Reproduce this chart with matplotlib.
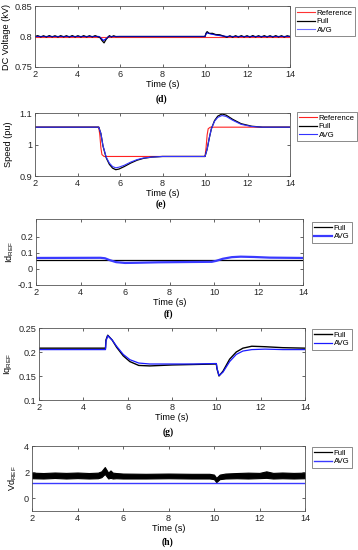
import matplotlib
matplotlib.use('Agg')
import matplotlib.pyplot as plt

plt.rcParams['font.family'] = ['Liberation Sans', 'DejaVu Sans']
plt.rcParams['mathtext.fontset'] = 'custom'
plt.rcParams['mathtext.rm'] = 'Liberation Sans'

# ---- (d) DC voltage ----
t_d_ref = [2, 14]
v_d_ref = [0.8, 0.8]
t_d_full = [2.0, 2.13, 2.27, 2.4, 2.54, 2.67, 2.81, 2.94, 3.08, 3.21, 3.35, 3.48, 3.62, 3.75,
            3.89, 4.02, 4.16, 4.29, 4.43, 4.56, 4.7, 4.83, 4.97, 5.05, 5.15, 5.25, 5.35, 5.5,
            5.6, 5.7, 5.8, 6.0, 10.0, 10.05, 10.1, 10.2, 10.35, 10.5, 10.7, 10.9, 11.03, 11.17,
            11.3, 11.44, 11.57, 11.71, 11.84, 11.98, 12.11, 12.25, 12.38, 12.52, 12.65, 12.79,
            12.92, 13.06, 13.19, 13.33, 13.46, 13.6, 13.73, 13.87, 14.0]
v_d_full = [0.8, 0.8014, 0.7992, 0.8012, 0.7991, 0.8015, 0.7993, 0.8012, 0.7991, 0.8014, 0.7993,
            0.8013, 0.7991, 0.8015, 0.7992, 0.8013, 0.7991, 0.8014, 0.7992, 0.8013, 0.7992,
            0.8014, 0.7994, 0.7985, 0.7935, 0.7895, 0.7955, 0.8014, 0.7992, 0.8012, 0.7998,
            0.8, 0.8, 0.8055, 0.808, 0.805, 0.8052, 0.8032, 0.8028, 0.8003, 0.7988, 0.8012,
            0.7989, 0.8013, 0.7991, 0.8014, 0.7992, 0.8013, 0.7991, 0.8015, 0.7992, 0.8013,
            0.7991, 0.8014, 0.7992, 0.8013, 0.7991, 0.8014, 0.7992, 0.8013, 0.7991, 0.8012, 0.8]
t_d_avg = [2, 5.0, 5.1, 5.2, 5.3, 5.45, 5.6, 10.0, 10.05, 10.1, 10.3, 10.6, 11.0, 14]
v_d_avg = [0.8, 0.8, 0.798, 0.7935, 0.795, 0.7995, 0.8, 0.8, 0.8045, 0.806, 0.804, 0.802, 0.8, 0.8]

# ---- (e) speed ----
t_e_ref = [2, 5.0, 5.05, 5.1, 5.15, 5.25, 10.0, 10.05, 10.1, 10.15, 10.25, 14]
v_e_ref = [1.055, 1.055, 1.03, 0.99, 0.968, 0.962, 0.962, 0.99, 1.03, 1.05, 1.055, 1.055]
t_e_full = [2, 5.0, 5.1, 5.2, 5.35, 5.5, 5.65, 5.8, 5.95, 6.2, 6.5, 6.8, 7.1, 7.5, 8.0, 10.0,
            10.1, 10.2, 10.3, 10.45, 10.6, 10.8, 11.0, 11.3, 11.7, 12.2, 12.7, 14]
v_e_full = [1.055, 1.055, 1.035, 0.995, 0.958, 0.937, 0.925, 0.92, 0.922, 0.93, 0.941, 0.95,
            0.956, 0.96, 0.962, 0.962, 0.985, 1.02, 1.05, 1.076, 1.09, 1.097, 1.093, 1.08, 1.066,
            1.058, 1.055, 1.055]
v_e_avg = [1.055, 1.055, 1.035, 0.996, 0.96, 0.941, 0.93, 0.926, 0.928, 0.934, 0.944, 0.952,
           0.957, 0.96, 0.962, 0.962, 0.985, 1.02, 1.05, 1.074, 1.086, 1.092, 1.089, 1.077, 1.064,
           1.057, 1.055, 1.055]

# ---- (f) Id_REF ----
t_f_full = [2, 14]
v_f_full = [0.055, 0.055]
t_f_avg = [2, 4.9, 5.1, 5.3, 5.6, 6.0, 6.5, 7.5, 9.0, 9.9, 10.1, 10.4, 10.8, 11.2, 11.8, 12.5, 14]
v_f_avg = [0.068, 0.069, 0.066, 0.055, 0.042, 0.037, 0.038, 0.041, 0.043, 0.044, 0.05, 0.063,
           0.073, 0.076, 0.074, 0.07, 0.068]

# ---- (g) Iq_REF ----
t_g = [2, 5.0, 5.02, 5.1, 5.3, 5.5, 5.8, 6.1, 6.5, 7.0, 8.0, 9.0, 10.0, 10.03, 10.12, 10.3,
       10.6, 10.9, 11.2, 11.6, 12.2, 13.0, 14]
v_g_full = [0.208, 0.208, 0.225, 0.235, 0.225, 0.21, 0.192, 0.18, 0.172, 0.171, 0.173, 0.174,
            0.175, 0.165, 0.15, 0.16, 0.185, 0.2, 0.208, 0.212, 0.211, 0.209, 0.208]
v_g_avg = [0.205, 0.205, 0.222, 0.234, 0.225, 0.212, 0.195, 0.184, 0.177, 0.175, 0.175, 0.175,
           0.176, 0.166, 0.151, 0.158, 0.18, 0.195, 0.202, 0.205, 0.206, 0.205, 0.205]

# ---- (h) Vd_REF (Full drawn as a noise band) ----
t_h = [2, 2.5, 3.0, 3.5, 4.0, 4.5, 4.9, 5.05, 5.2, 5.35, 5.45, 5.55, 5.7, 6.0, 7.0, 8.0, 9.0,
       9.8, 10.0, 10.1, 10.25, 10.5, 11.0, 11.5, 12.0, 12.3, 12.6, 13.0, 13.5, 14]
h_full_lo = [1.52, 1.5, 1.54, 1.5, 1.53, 1.5, 1.52, 1.6, 1.85, 1.5, 1.55, 1.5, 1.52, 1.5,
             1.5, 1.52, 1.5, 1.5, 1.45, 1.22, 1.45, 1.5, 1.52, 1.5, 1.53, 1.55, 1.5, 1.52, 1.5, 1.52]
h_full_hi = [1.95, 1.92, 1.96, 1.93, 1.96, 1.92, 1.95, 2.05, 2.38, 1.95, 2.12, 1.95, 1.92, 1.88,
             1.86, 1.88, 1.86, 1.86, 1.8, 1.55, 1.8, 1.88, 1.92, 1.95, 1.93, 2.05, 1.93, 1.96, 1.93, 1.95]
t_h_avg = [2, 14]
v_h_avg = [1.15, 1.15]

W, H = 358, 550
FS = 6.6
LFS = 5.6


def add_axes(fig, x0, y0, x1, y1):
    return fig.add_axes([x0 / W, 1 - y1 / H, (x1 - x0) / W, (y1 - y0) / H])


def style(ax, ylim, yticks, yticklabels, ylabel, label_px, x0, x1):
    ax.set_xlim(2, 14)
    ax.set_xticks([2, 4, 6, 8, 10, 12, 14])
    ax.set_ylim(*ylim)
    ax.set_yticks(yticks)
    ax.set_yticklabels(yticklabels)
    ax.tick_params(direction='in', length=2.5, width=0.5, labelsize=FS, pad=2,
                   top=True, right=True, colors='#262626')
    for s in ax.spines.values():
        s.set_linewidth(0.6)
        s.set_color('#555555')
    ax.set_xlabel('Time (s)', fontsize=FS, labelpad=1)
    ax.set_ylabel(ylabel, fontsize=FS)
    # label_px is the right edge of the rotated label, in figure pixels
    ax.yaxis.set_label_coords((label_px - x0) / (x1 - x0), 0.5)


def legend(ax, x0, y0):
    leg = ax.legend(loc='upper left', bbox_to_anchor=(x0 / W, 1 - y0 / H),
                    bbox_transform=ax.figure.transFigure, fontsize=LFS, frameon=True,
                    fancybox=False, handlelength=2.3, handletextpad=0.2, borderpad=0.3,
                    labelspacing=0.15, borderaxespad=0)
    leg.get_frame().set_edgecolor('#555555')
    leg.get_frame().set_linewidth(0.6)


def caption(fig, text, x, y):
    fig.text(x / W, 1 - y / H, text, fontsize=7, fontweight='bold',
             family='Liberation Serif', ha='center', va='center')


fig = plt.figure(figsize=(W / 100, H / 100), dpi=100)

# (d)
ax = add_axes(fig, 35, 6, 290, 67)
ax.plot(t_d_ref, v_d_ref, color='#ff3333', lw=0.8, label='Reference')
ax.plot(t_d_avg, v_d_avg, color='#1010ff', lw=0.8, zorder=1)
ax.plot(t_d_full, v_d_full, color='black', lw=0.9, label='Full')
ax.plot(t_d_avg, v_d_avg, color='#1010ff', lw=0.8, label='AVG', alpha=0.6)
style(ax, (0.75, 0.85), [0.75, 0.8, 0.85], ['0.75', '0.8', '0.85'],
      'DC Voltage (kV)', 11, 35, 290)
legend(ax, 295, 7)
caption(fig, '(d)', 161, 99)

# (e)
ax = add_axes(fig, 35, 113, 290, 176)
ax.plot(t_e_ref, v_e_ref, color='#ff2222', lw=0.8, label='Reference')
ax.plot(t_e_full, v_e_full, color='black', lw=0.9, label='Full')
ax.plot(t_e_full, v_e_avg, color='#3333ff', lw=0.8, label='AVG')
style(ax, (0.9, 1.1), [0.9, 1.0, 1.1], ['0.9', '1', '1.1'], 'Speed (pu)', 13, 35, 290)
legend(ax, 297, 112)
caption(fig, '(e)', 161, 204)

# (f)
ax = add_axes(fig, 36, 219, 303, 285)
ax.plot(t_f_full, v_f_full, color='black', lw=0.9, label='Full')
ax.plot(t_f_avg, v_f_avg, color='#3a3aff', lw=1.6, label='AVG')
style(ax, (-0.1, 0.31), [-0.1, 0, 0.1, 0.2], ['-0.1', '0', '0.1', '0.2'],
      r'Id$_\mathregular{REF}$', 16, 36, 303)
legend(ax, 312, 222)
caption(fig, '(f)', 168, 314)

# (g)
ax = add_axes(fig, 39, 328, 305, 400)
ax.plot(t_g, v_g_full, color='black', lw=1.0, label='Full')
ax.plot(t_g, v_g_avg, color='#1a1aff', lw=0.9, label='AVG')
style(ax, (0.1, 0.25), [0.1, 0.15, 0.2, 0.25], ['0.1', '0.15', '0.2', '0.25'],
      r'Iq$_\mathregular{REF}$', 14, 39, 305)
legend(ax, 312, 329)
caption(fig, '(g)', 168, 432)

# (h)
ax = add_axes(fig, 32, 446, 305, 511)
ax.fill_between(t_h, h_full_lo, h_full_hi, color='black', lw=0.8, edgecolor='black')
ax.plot([], [], color='black', lw=0.9, label='Full')
ax.plot(t_h_avg, v_h_avg, color='#3a3aff', lw=1.0, label='AVG')
style(ax, (-1, 4), [0, 2, 4], ['0', '2', '4'], r'Vd$_\mathregular{REF}$', 19, 32, 305)
legend(ax, 312, 447)
caption(fig, '(h)', 168, 542)

fig.savefig('out.png', dpi=100)
